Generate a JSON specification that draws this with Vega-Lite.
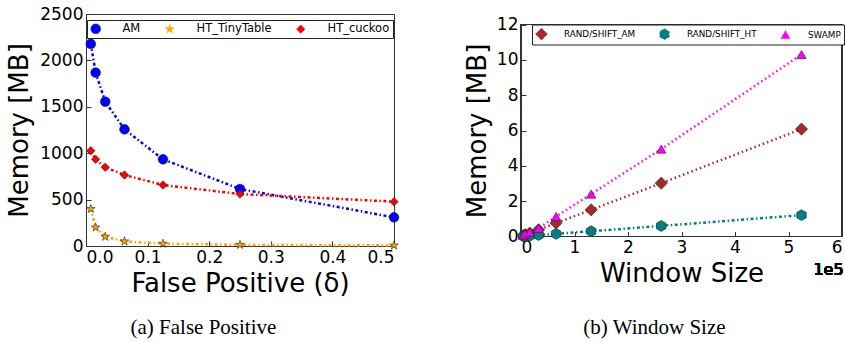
{
  "$schema": "https://vega.github.io/schema/vega-lite/v6.json",
  "background": "white",
  "padding": {"left": 6, "top": 4, "right": 0, "bottom": 2},
  "bounds": "full",
  "spacing": 63,
  "resolve": {"scale": {"color": "independent", "shape": "independent", "size": "independent", "strokeDash": "independent", "x": "independent", "y": "independent"}},
  "datasets": {
    "fp": [
      {"x": 0.0078125, "series": "AM", "memory": 2177},
      {"x": 0.015625, "series": "AM", "memory": 1868},
      {"x": 0.03125, "series": "AM", "memory": 1555},
      {"x": 0.0625, "series": "AM", "memory": 1257},
      {"x": 0.125, "series": "AM", "memory": 934},
      {"x": 0.25, "series": "AM", "memory": 614},
      {"x": 0.5, "series": "AM", "memory": 309},
      {"x": 0.0078125, "series": "HT_TinyTable", "memory": 400},
      {"x": 0.015625, "series": "HT_TinyTable", "memory": 200},
      {"x": 0.03125, "series": "HT_TinyTable", "memory": 100},
      {"x": 0.0625, "series": "HT_TinyTable", "memory": 50},
      {"x": 0.125, "series": "HT_TinyTable", "memory": 25},
      {"x": 0.25, "series": "HT_TinyTable", "memory": 12.5},
      {"x": 0.5, "series": "HT_TinyTable", "memory": 6.25},
      {"x": 0.0078125, "series": "HT_cuckoo", "memory": 1027},
      {"x": 0.015625, "series": "HT_cuckoo", "memory": 934},
      {"x": 0.03125, "series": "HT_cuckoo", "memory": 848},
      {"x": 0.0625, "series": "HT_cuckoo", "memory": 765},
      {"x": 0.125, "series": "HT_cuckoo", "memory": 657},
      {"x": 0.25, "series": "HT_cuckoo", "memory": 560},
      {"x": 0.5, "series": "HT_cuckoo", "memory": 478}
    ],
    "ws": [
      {"w": 4096, "series": "RAND/SHIFT_AM", "memory": 0.05},
      {"w": 8192, "series": "RAND/SHIFT_AM", "memory": 0.1},
      {"w": 16384, "series": "RAND/SHIFT_AM", "memory": 0.19},
      {"w": 32768, "series": "RAND/SHIFT_AM", "memory": 0.38},
      {"w": 65536, "series": "RAND/SHIFT_AM", "memory": 0.76},
      {"w": 131072, "series": "RAND/SHIFT_AM", "memory": 1.51},
      {"w": 262144, "series": "RAND/SHIFT_AM", "memory": 3.02},
      {"w": 524288, "series": "RAND/SHIFT_AM", "memory": 6.08},
      {"w": 4096, "series": "RAND/SHIFT_HT", "memory": 0.01},
      {"w": 8192, "series": "RAND/SHIFT_HT", "memory": 0.02},
      {"w": 16384, "series": "RAND/SHIFT_HT", "memory": 0.04},
      {"w": 32768, "series": "RAND/SHIFT_HT", "memory": 0.08},
      {"w": 65536, "series": "RAND/SHIFT_HT", "memory": 0.15},
      {"w": 131072, "series": "RAND/SHIFT_HT", "memory": 0.3},
      {"w": 262144, "series": "RAND/SHIFT_HT", "memory": 0.6},
      {"w": 524288, "series": "RAND/SHIFT_HT", "memory": 1.21},
      {"w": 4096, "series": "SWAMP", "memory": 0.08},
      {"w": 8192, "series": "SWAMP", "memory": 0.15},
      {"w": 16384, "series": "SWAMP", "memory": 0.25},
      {"w": 32768, "series": "SWAMP", "memory": 0.47},
      {"w": 65536, "series": "SWAMP", "memory": 1.13},
      {"w": 131072, "series": "SWAMP", "memory": 2.4},
      {"w": 262144, "series": "SWAMP", "memory": 4.95},
      {"w": 524288, "series": "SWAMP", "memory": 10.3}
    ]
  },
  "hconcat": [
    {
      "width": 308,
      "height": 232,
      "title": {"text": "(a) False Positive", "orient": "bottom", "frame": "bounds", "anchor": "middle", "font": "Liberation Serif", "fontSize": 21, "fontWeight": "normal", "offset": 21, "color": "#000"},
      "data": {"name": "fp"},
      "encoding": {
        "x": {"field": "x", "type": "quantitative", "scale": {"domain": [0, 0.5], "nice": false, "zero": false, "padding": 0},
              "axis": {"title": "False Positive (δ)", "values": [0, 0.1, 0.2, 0.3, 0.4, 0.5], "format": ".1f", "titlePadding": 5}},
        "y": {"field": "memory", "type": "quantitative", "scale": {"domain": [0, 2500], "nice": false, "padding": 0},
              "axis": {"title": "Memory [MB]", "values": [0, 500, 1000, 1500, 2000, 2500], "format": "d", "titlePadding": 7}},
        "color": {"field": "series", "type": "nominal",
                  "scale": {"domain": ["AM", "HT_TinyTable", "HT_cuckoo"], "range": ["#0000ff", "#ffa500", "#ff0000"]},
                  "legend": {"orient": "none", "legendX": 1, "legendY": 6, "direction": "horizontal", "columns": 3, "title": null,
                             "strokeColor": "#222", "fillColor": "#ffffff", "padding": 3, "labelFontSize": 11.5, "labelFont": "DejaVu Sans",
                             "labelColor": "#000", "symbolSize": 90, "labelOffset": 21, "columnPadding": 23, "symbolStrokeColor": "#222", "symbolStrokeWidth": 0.6, "labelLimit": 0, "cornerRadius": 0}}
      },
      "layer": [
        {"mark": {"type": "line", "strokeWidth": 2.5, "strokeDash": [3, 2.5, 1.5, 2.5], "clip": false}},
        {"mark": {"type": "point", "filled": true, "opacity": 1, "stroke": "#222", "strokeWidth": 0.6, "clip": false},
         "encoding": {
           "shape": {"field": "series", "type": "nominal",
                     "scale": {"domain": ["AM", "HT_TinyTable", "HT_cuckoo"],
                               "range": ["circle", "M0,-1L0.2245,-0.309L0.951,-0.309L0.363,0.118L0.588,0.809L0,0.382L-0.588,0.809L-0.363,0.118L-0.951,-0.309L-0.2245,-0.309Z", "diamond"]}},
           "size": {"field": "series", "type": "nominal", "legend": null,
                    "scale": {"domain": ["AM", "HT_TinyTable", "HT_cuckoo"], "range": [95, 70, 150]}}
         }}
      ]
    },
    {
      "width": 321,
      "height": 232,
      "view": {"stroke": null},
      "title": {"text": "(b) Window Size", "orient": "bottom", "frame": "bounds", "anchor": "middle", "font": "Liberation Serif", "fontSize": 21, "fontWeight": "normal", "offset": 30, "color": "#000"},
      "data": {"name": "ws"},
      "encoding": {
        "x": {"field": "w", "type": "quantitative", "scale": {"domain": [0, 600000], "nice": false, "padding": 0},
              "axis": {"title": "Window Size", "offset": -9.5, "values": [0, 100000, 200000, 300000, 400000, 500000, 600000], "labelExpr": "format(datum.value / 100000, 'd')", "titlePadding": 5}},
        "y": {"field": "memory", "type": "quantitative", "scale": {"domain": [0, 12], "nice": false, "padding": 0, "range": [222.5, 10.5]},
              "axis": {"title": "Memory [MB]", "values": [0, 2, 4, 6, 8, 10, 12], "titlePadding": 6}},
        "color": {"field": "series", "type": "nominal",
                  "scale": {"domain": ["RAND/SHIFT_AM", "RAND/SHIFT_HT", "SWAMP"], "range": ["#a52a2a", "#008080", "#ff00ff"]},
                  "legend": {"orient": "none", "legendX": 11, "legendY": 10.5, "direction": "horizontal", "columns": 3, "title": null,
                             "strokeColor": "#222", "fillColor": "#ffffff", "padding": 3, "labelFontSize": 8.8, "labelFont": "DejaVu Sans",
                             "labelColor": "#000", "symbolSize": 100, "labelOffset": 16, "columnPadding": 22, "symbolStrokeColor": "#222", "symbolStrokeWidth": 0.6, "labelLimit": 0, "cornerRadius": 0}}
      },
      "layer": [
        {"mark": {"type": "rect", "filled": false, "stroke": "#333", "strokeWidth": 1, "clip": false},
         "encoding": {"x": {"datum": 0}, "x2": {"datum": 600000}, "y": {"datum": 0}, "y2": {"datum": 12}, "color": {"value": "#333"}}},
        {"mark": {"type": "line", "strokeWidth": 2.5, "clip": false},
         "encoding": {"strokeDash": {"field": "series", "type": "nominal", "legend": null,
                                     "scale": {"domain": ["RAND/SHIFT_AM", "RAND/SHIFT_HT", "SWAMP"], "range": [[1.5, 3], [3, 2.5, 1.5, 2.5], [1.5, 3]]}}}},
        {"mark": {"type": "point", "filled": true, "opacity": 1, "stroke": "#222", "strokeWidth": 0.6, "clip": false},
         "encoding": {
           "shape": {"field": "series", "type": "nominal",
                     "scale": {"domain": ["RAND/SHIFT_AM", "RAND/SHIFT_HT", "SWAMP"],
                               "range": ["diamond", "M0,-1L0.866,-0.5L0.866,0.5L0,1L-0.866,0.5L-0.866,-0.5Z", "triangle-up"]}},
           "size": {"field": "series", "type": "nominal", "legend": null,
                    "scale": {"domain": ["RAND/SHIFT_AM", "RAND/SHIFT_HT", "SWAMP"], "range": [150, 90, 100]}}
         }},
        {"mark": {"type": "text", "align": "right", "baseline": "middle", "fontSize": 16, "font": "DejaVu Sans", "clip": false},
         "encoding": {"x": {"datum": 603000}, "y": {"datum": -1.9}, "text": {"value": "1e5"}, "color": {"value": "#000"}}}
      ]
    }
  ],
  "config": {
    "font": "DejaVu Sans",
    "view": {"stroke": "#333", "strokeWidth": 1},
    "axis": {"labelFont": "DejaVu Sans", "labelFontSize": 17, "labelColor": "#000", "titleFont": "DejaVu Sans", "titleFontSize": 26,
             "titleFontWeight": "normal", "titleColor": "#000", "grid": false, "domain": false, "tickColor": "#333", "tickSize": -5, "labelPadding": 8, "labelOverlap": false}
  }
}
